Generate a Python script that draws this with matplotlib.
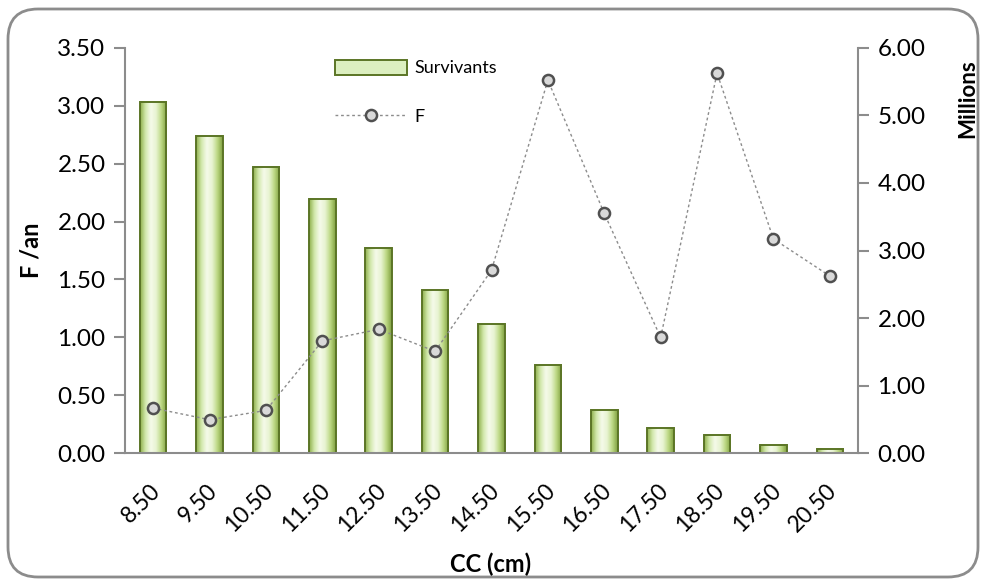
import numpy as np
import matplotlib.pyplot as plt
from matplotlib.colors import LinearSegmentedColormap
from matplotlib.patches import FancyBboxPatch
from matplotlib.lines import Line2D
from matplotlib.patches import Patch
import matplotlib.transforms as mtransforms

plt.rcParams["font.family"] = ["Lato", "DejaVu Sans"]

# ── Data ─────────────────────────────────────────────────────────────────────
classes = ["8.50", "9.50", "10.50", "11.50", "12.50", "13.50", "14.50",
           "15.50", "16.50", "17.50", "18.50", "19.50", "20.50"]
survivants = [5.20, 4.69, 4.24, 3.76, 3.04, 2.41, 1.92,
              1.31, 0.64, 0.37, 0.27, 0.12, 0.07]          # millions
f_an = [0.39, 0.29, 0.37, 0.97, 1.07, 0.88, 1.58,
        3.22, 2.07, 1.00, 3.28, 1.85, 1.53]
left_ticks = [0.0, 0.5, 1.0, 1.5, 2.0, 2.5, 3.0, 3.5]
right_ticks = [0, 1, 2, 3, 4, 5, 6]

GRAY = "#8c8c8c"
W, H = 985, 582

fig = plt.figure(figsize=(W / 100, H / 100), dpi=100)
ax = fig.add_axes([125 / W, 1 - 453.3 / H, (858 - 125) / W, (453.3 - 47.7) / H])
ax2 = ax.twinx()
ax.set_zorder(ax2.get_zorder() + 1)
ax.patch.set_visible(False)

x = np.arange(len(classes))
bw = 0.47

# ── Bars (right axis, millions) with a bevel-like gradient ─────────────────
cmap = LinearSegmentedColormap.from_list(
    "bar", ["#8fb04c", "#d3e9ad", "#f5faea", "#e8f4d2", "#bcd883", "#7f9f3f"])
grad = np.linspace(0, 1, 64).reshape(1, -1)
for xi, h in zip(x, survivants):
    ax2.imshow(grad, extent=[xi - bw / 2, xi + bw / 2, 0, h], aspect="auto",
               cmap=cmap, zorder=1, interpolation="bicubic")
ax2.bar(x, survivants, width=bw, fill=False, edgecolor="#5b7526",
        linewidth=1.4, zorder=2)

# ── Line (left axis, F/an) ──────────────────────────────────────────────────
ax.plot(x, f_an, linestyle=(0, (2, 2)), color=GRAY, linewidth=1.0, zorder=3)
ax.plot(x, f_an, linestyle="none", marker="o", markersize=8,
        markerfacecolor="#d9d9d9", markeredgecolor="#505050",
        markeredgewidth=1.8, zorder=4)

# ── Axes styling ────────────────────────────────────────────────────────────
ax.set_xlim(-0.5, len(classes) - 0.5)
ax.set_ylim(0, 3.5)
ax2.set_ylim(0, 6)
ax2.set_xlim(-0.5, len(classes) - 0.5)

for a in (ax, ax2):
    for s in a.spines.values():
        s.set_visible(False)
        s.set_color(GRAY)
        s.set_linewidth(1.5)
ax.spines["left"].set_visible(True)
ax.spines["bottom"].set_visible(True)
ax2.spines["right"].set_visible(True)

ax.set_yticks(left_ticks)
ax.set_yticklabels([f"{v:.2f}" for v in left_ticks])
ax2.set_yticks(right_ticks)
ax2.set_yticklabels([f"{v:.2f}" for v in right_ticks])
ax.set_xticks(np.arange(-0.5, len(classes), 1.0))
ax.set_xticklabels([])
ax2.set_xticks([])

ax.tick_params(axis="y", direction="out", length=8, width=1.5, color=GRAY,
               labelsize=17.5, pad=6)
ax2.tick_params(axis="y", direction="out", length=8, width=1.5, color=GRAY,
                labelsize=17.5, pad=6)
ax.tick_params(axis="x", direction="out", length=9, width=1.5, color=GRAY)

# rotated category labels
off = mtransforms.ScaledTranslation(4 / 100, -34 / 100, fig.dpi_scale_trans)
for xi, lab in zip(x, classes):
    ax.text(xi, 0, lab, transform=ax.get_xaxis_transform() + off,
            rotation=45, rotation_mode="anchor", ha="right", va="center",
            fontsize=16.5)

fig.text(491 / W, 1 - 564 / H, "CC (cm)", ha="center", va="center",
         fontsize=17, fontweight="bold")
fig.text(31 / W, 1 - 250 / H, "F /an", ha="center", va="center",
         rotation=90, fontsize=17, fontweight="bold")
fig.text(968 / W, 1 - 99 / H, "Millions", ha="center", va="center",
         rotation=90, fontsize=16, fontweight="bold")

# ── Legend ──────────────────────────────────────────────────────────────────
handles = [
    Patch(facecolor="#dcefc0", edgecolor="#5b7526", linewidth=1.4),
    Line2D([0], [0], linestyle=(0, (2, 2)), color=GRAY, linewidth=1.0,
           marker="o", markersize=8, markerfacecolor="#d9d9d9",
           markeredgecolor="#505050", markeredgewidth=1.8),
]
fig.legend(handles, ["Survivants", "F"], loc="upper left",
           bbox_to_anchor=(322 / W, 1 - 47 / H), frameon=False,
           fontsize=13, handlelength=4.0, handleheight=0.9,
           labelspacing=1.75, handletextpad=0.4, borderpad=0.2)

# ── Rounded outer frame ─────────────────────────────────────────────────────
frame = FancyBboxPatch((8, 5), 970, 568, boxstyle="round,pad=0,rounding_size=30",
                       transform=None, fill=False, edgecolor=GRAY, linewidth=2)
fig.patches.append(frame)

fig.savefig("out.png", dpi=100)
